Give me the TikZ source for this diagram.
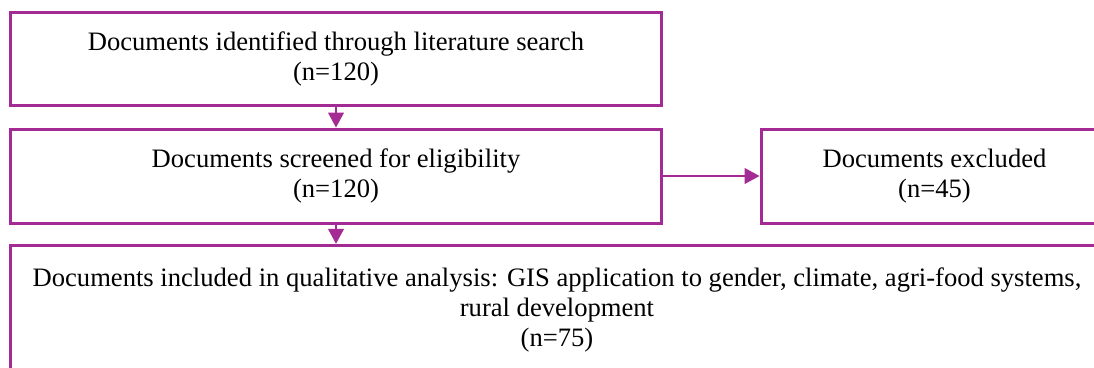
\documentclass[tikz,border=0pt]{standalone}
\usepackage{fontspec}
\setmainfont{Liberation Serif}
\usetikzlibrary{arrows.meta}
\definecolor{boxpurple}{RGB}{163,43,147}
\tikzset{
  flowbox/.style={draw=boxpurple, line width=3pt, align=center, inner sep=0pt,
    font=\fontsize{26.6}{30}\selectfont, text=black},
  flowarrow/.style={draw=boxpurple, line width=1.2pt,
    -{Triangle[length=15pt,width=16pt]}, color=boxpurple}
}
\begin{document}
\begin{tikzpicture}[x=1pt,y=1pt]
\useasboundingbox (0,-367) rectangle (1094,0);
\clip (0,-367) rectangle (1094,0);
\node[flowbox, minimum width=651pt, minimum height=93pt] (ident) at (336,-59)
  {Documents identified through literature search\\(n=120)};
\node[flowbox, minimum width=651pt, minimum height=94pt] (screen) at (336,-176)
  {Documents screened for eligibility\\(n=120)};
\node[flowbox, minimum width=347pt, minimum height=94pt] (excl) at (934.5,-176)
  {Documents excluded\\(n=45)};
\node[flowbox, minimum width=1093pt, minimum height=129.5pt] (incl) at (557,-310)
  {Documents included in qualitative analysis: GIS application to gender, climate, agri-food systems,\\rural development\\(n=75)};
\draw[flowarrow] (ident.south) -- (screen.north);
\draw[flowarrow] (screen.east) -- (excl.west);
\draw[flowarrow] (screen.south) -- (screen.south |- incl.north);
\end{tikzpicture}
\end{document}
